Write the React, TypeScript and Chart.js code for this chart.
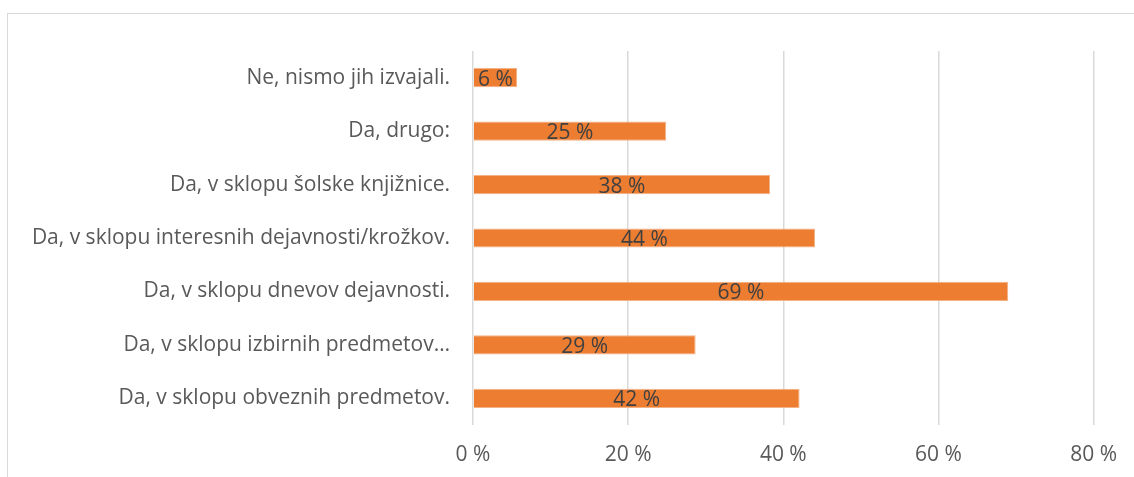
import React, { useEffect, useRef } from "react";
import { Chart, registerables } from "chart.js";

Chart.register(...registerables);

const categories = [
  "Ne, nismo jih izvajali.",
  "Da, drugo:",
  "Da, v sklopu šolske knjižnice.",
  "Da, v sklopu interesnih dejavnosti/krožkov.",
  "Da, v sklopu dnevov dejavnosti.",
  "Da, v sklopu izbirnih predmetov…",
  "Da, v sklopu obveznih predmetov.",
];
const values = [5.7, 24.9, 38.3, 44.1, 69.0, 28.7, 42.1];
const valueLabels = ["6 %", "25 %", "38 %", "44 %", "69 %", "29 %", "42 %"];
const xTickValues = [0, 20, 40, 60, 80];

const FONT = "'Open Sans', 'Noto Sans', sans-serif";

const barLabels = {
  id: "barLabels",
  afterDatasetsDraw(chart: any) {
    const ctx = chart.ctx;
    const meta = chart.getDatasetMeta(0);
    ctx.save();
    ctx.font = `21px ${FONT}`;
    ctx.fillStyle = "#404040";
    ctx.textAlign = "center";
    ctx.textBaseline = "middle";
    meta.data.forEach((el: any, i: number) => {
      const x = (el.x + el.base) / 2;
      ctx.fillText(valueLabels[i], x, el.y + 2);
    });
    ctx.restore();
  },
};

export default function App() {
  const ref = useRef<HTMLCanvasElement>(null);
  useEffect(() => {
    if (!ref.current) return;
    const chart = new Chart(ref.current, {
      type: "bar",
      data: {
        labels: categories,
        datasets: [
          {
            data: values,
            backgroundColor: "#ED7D31",
            borderColor: "#F4B183",
            borderWidth: 1,
            categoryPercentage: 1,
            barPercentage: 0.36,
          },
        ],
      },
      options: {
        indexAxis: "y",
        animation: false,
        responsive: false,
        maintainAspectRatio: false,
        layout: { padding: { top: 51, right: 40, bottom: 0, left: 0 } },
        plugins: { legend: { display: false }, tooltip: { enabled: false } },
        scales: {
          x: {
            min: 0,
            max: 80,
            afterBuildTicks: (scale: any) => {
              scale.ticks = xTickValues.map((v) => ({ value: v }));
            },
            afterFit: (scale: any) => {
              scale.height = 52;
            },
            ticks: {
              padding: 17,
              color: "#595959",
              font: { family: FONT, size: 21 },
              callback: (v: any) => `${v} %`,
            },
            grid: { color: "#D9D9D9", lineWidth: 1.5, drawTicks: false },
            border: { display: false },
          },
          y: {
            afterFit: (scale: any) => {
              scale.width = 473;
            },
            ticks: {
              padding: 23,
              color: "#595959",
              font: { family: FONT, size: 21 },
            },
            grid: { display: false, drawTicks: false },
            border: { display: false },
          },
        },
      },
      plugins: [barLabels],
    });
    return () => chart.destroy();
  }, []);
  return (
    <div
      style={{
        position: "fixed",
        left: 0,
        top: 0,
        width: 1134,
        height: 477,
        background: "#fff",
        overflow: "hidden",
      }}
    >
      <div
        style={{
          position: "absolute",
          left: 7,
          top: 13,
          width: 1200,
          height: 600,
          borderTop: "1.5px solid #D9D9D9",
          borderLeft: "1.5px solid #D9D9D9",
        }}
      />
      <canvas
        ref={ref}
        width={1134}
        height={477}
        style={{ position: "absolute", left: 0, top: 0, width: 1134, height: 477 }}
      />
    </div>
  );
}
